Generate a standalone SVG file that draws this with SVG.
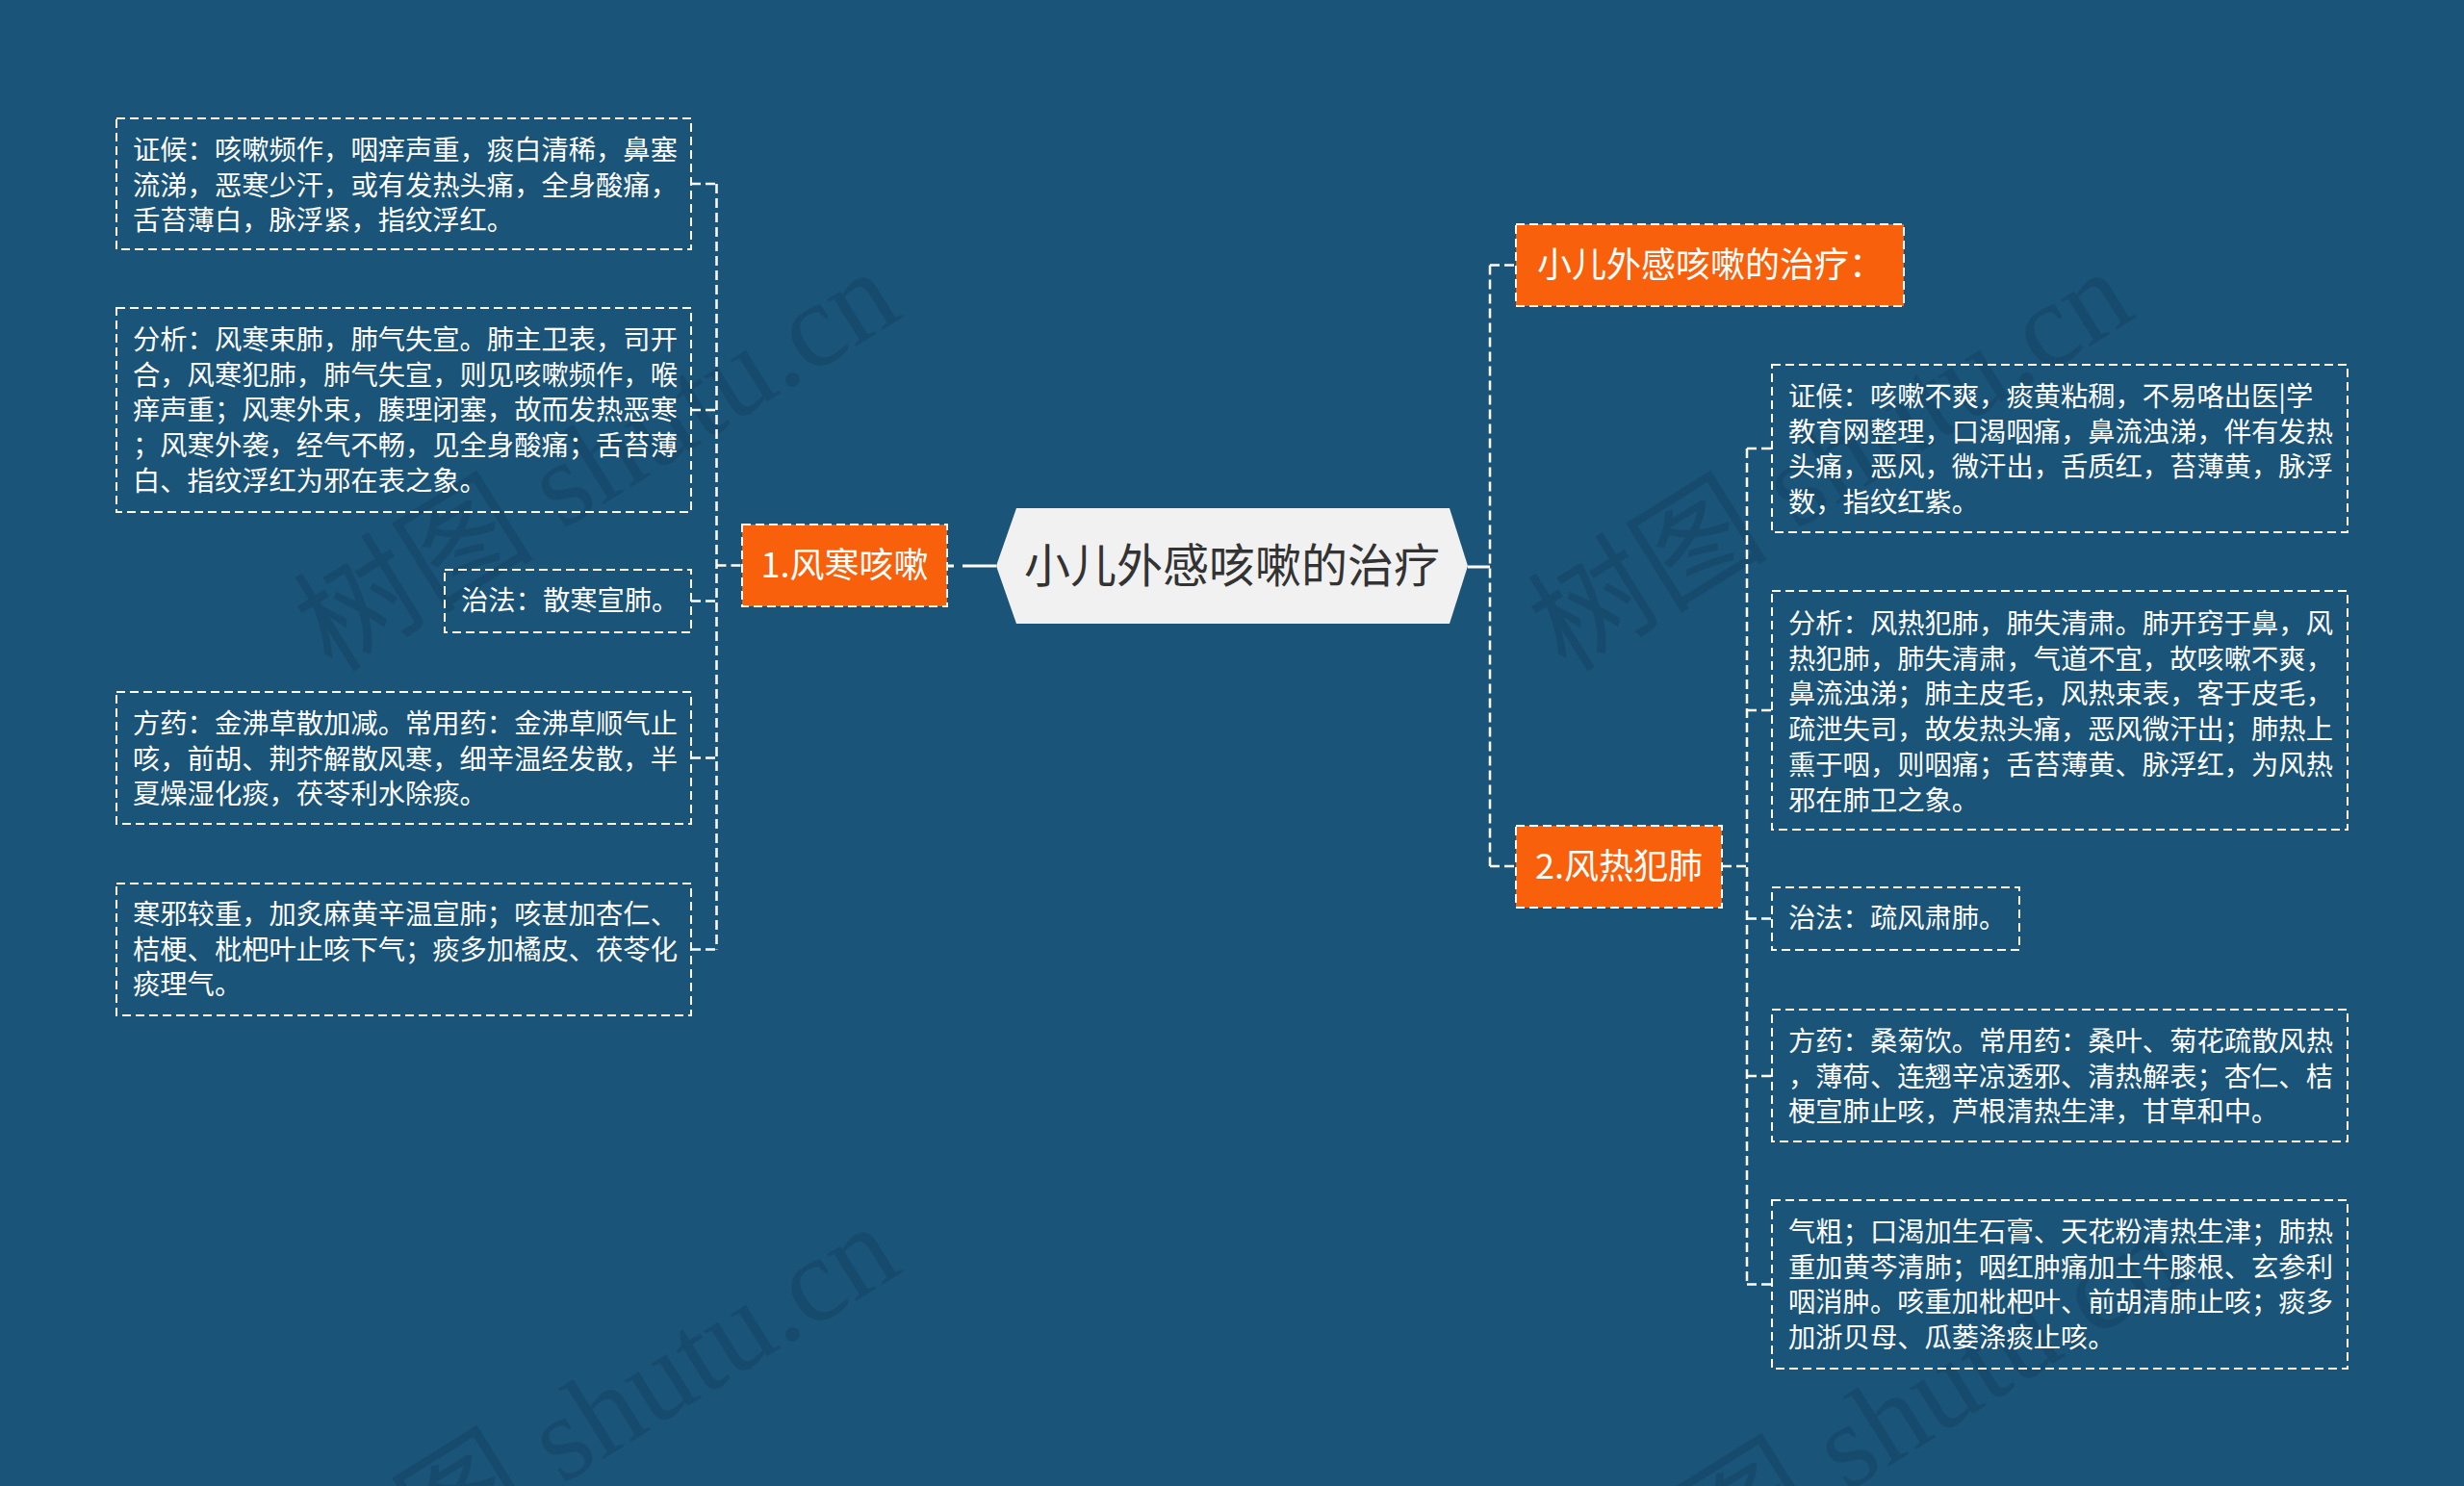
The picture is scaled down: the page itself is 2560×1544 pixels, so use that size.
<svg xmlns="http://www.w3.org/2000/svg" width="2560" height="1544" viewBox="0 0 2560 1544">
<style>
.bg{fill:#1b5479}
.wm{font-family:"Liberation Serif","Noto Sans CJK SC",serif;font-size:125px;fill:#174b6e}
.box{fill:none;stroke:#ffffff;stroke-width:2;stroke-dasharray:9 5}
.obox{fill:#f9600b;stroke:#ffffff;stroke-width:2;stroke-dasharray:9 5}
.t{font-family:"Noto Sans CJK SC","Noto Sans",sans-serif;font-size:28.3px;fill:#ffffff}
.ot{font-family:"Noto Sans CJK SC","Noto Sans",sans-serif;font-size:36px;fill:#ffffff}
.ct{font-family:"Noto Sans CJK SC","Noto Sans",sans-serif;font-size:48px;fill:#333333}
.conn{fill:none;stroke:#ffffff;stroke-width:2.5;stroke-dasharray:10 5}
.solid{fill:none;stroke:#ffffff;stroke-width:3}
</style>
<rect class="bg" x="0" y="0" width="2560" height="1544"/>
<g id="watermarks">
<text class="wm" transform="translate(345,700) rotate(-32)">树图 shutu.cn</text>
<text class="wm" transform="translate(1627,700) rotate(-32)">树图 shutu.cn</text>
<text class="wm" transform="translate(345,1692) rotate(-32)">树图 shutu.cn</text>
<text class="wm" transform="translate(1680,1700) rotate(-32)">树图 shutu.cn</text>
</g>
<g id="connectors">
<path class="conn" d="M744.5 191 V986.5"/>
<path class="conn" d="M718 191 H744.5 M718 426 H744.5 M718 624.5 H744.5 M718 787.5 H744.5 M718 986.5 H744.5 M744.5 587.5 H771"/>
<path class="solid" d="M1035 588 H984" style="stroke-dasharray:35 9"/>
<path class="solid" d="M1525 589 H1548"/>
<path class="conn" d="M1548 275.5 V900"/>
<path class="conn" d="M1548 275.5 H1575 M1548 900 H1575"/>
<path class="conn" d="M1789 900 H1815"/>
<path class="conn" d="M1815 466 V1334.5"/>
<path class="conn" d="M1815 466 H1841 M1815 738 H1841 M1815 954.5 H1841 M1815 1118 H1841 M1815 1334.5 H1841"/>
</g>
<g id="root">
<polygon points="1035,588 1056,528 1506,528 1525,588 1506,648 1056,648" fill="#f1f1f1"/>
<text class="ct" x="1280" y="605" text-anchor="middle">小儿外感咳嗽的治疗</text>
</g>
<g id="branch-1">
<rect class="obox" x="771" y="545" width="213" height="85"/>
<text class="ot" x="877.5" y="600" text-anchor="middle">1.风寒咳嗽</text>
</g>
<g id="left-1">
<rect class="box" x="121" y="123" width="597" height="136"/>
<text class="t"><tspan x="138" y="166">证候：咳嗽频作，咽痒声重，痰白清稀，鼻塞</tspan><tspan x="138" y="202.7">流涕，恶寒少汗，或有发热头痛，全身酸痛，</tspan><tspan x="138" y="239.4">舌苔薄白，脉浮紧，指纹浮红。</tspan></text>
</g>
<g id="left-2">
<rect class="box" x="121" y="320" width="597" height="212"/>
<text class="t"><tspan x="138" y="363">分析：风寒束肺，肺气失宣。肺主卫表，司开</tspan><tspan x="138" y="399.7">合，风寒犯肺，肺气失宣，则见咳嗽频作，喉</tspan><tspan x="138" y="436.4">痒声重；风寒外束，腠理闭塞，故而发热恶寒</tspan><tspan x="138" y="473.1">；风寒外袭，经气不畅，见全身酸痛；舌苔薄</tspan><tspan x="138" y="509.8">白、指纹浮红为邪在表之象。</tspan></text>
</g>
<g id="left-3">
<rect class="box" x="462" y="592" width="256" height="65"/>
<text class="t" x="479" y="634">治法：散寒宣肺。</text>
</g>
<g id="left-4">
<rect class="box" x="121" y="719" width="597" height="137"/>
<text class="t"><tspan x="138" y="762">方药：金沸草散加减。常用药：金沸草顺气止</tspan><tspan x="138" y="798.7">咳，前胡、荆芥解散风寒，细辛温经发散，半</tspan><tspan x="138" y="835.4">夏燥湿化痰，茯苓利水除痰。</tspan></text>
</g>
<g id="left-5">
<rect class="box" x="121" y="918" width="597" height="137"/>
<text class="t"><tspan x="138" y="960">寒邪较重，加炙麻黄辛温宣肺；咳甚加杏仁、</tspan><tspan x="138" y="996.7">桔梗、枇杷叶止咳下气；痰多加橘皮、茯苓化</tspan><tspan x="138" y="1033.4">痰理气。</tspan></text>
</g>
<g id="branch-0">
<rect class="obox" x="1575" y="233" width="403" height="85"/>
<text class="ot" x="1597" y="288">小儿外感咳嗽的治疗：</text>
</g>
<g id="branch-2">
<rect class="obox" x="1575" y="858" width="214" height="85"/>
<text class="ot" x="1682" y="913" text-anchor="middle">2.风热犯肺</text>
</g>
<g id="right-1">
<rect class="box" x="1841" y="379" width="598" height="174"/>
<text class="t"><tspan x="1858" y="422">证候：咳嗽不爽，痰黄粘稠，不易咯出医|学</tspan><tspan x="1858" y="458.7">教育网整理，口渴咽痛，鼻流浊涕，伴有发热</tspan><tspan x="1858" y="495.4">头痛，恶风，微汗出，舌质红，苔薄黄，脉浮</tspan><tspan x="1858" y="532.1">数，指纹红紫。</tspan></text>
</g>
<g id="right-2">
<rect class="box" x="1841" y="614" width="598" height="248"/>
<text class="t"><tspan x="1858" y="658">分析：风热犯肺，肺失清肃。肺开窍于鼻，风</tspan><tspan x="1858" y="694.7">热犯肺，肺失清肃，气道不宜，故咳嗽不爽，</tspan><tspan x="1858" y="731.4">鼻流浊涕；肺主皮毛，风热束表，客于皮毛，</tspan><tspan x="1858" y="768.1">疏泄失司，故发热头痛，恶风微汗出；肺热上</tspan><tspan x="1858" y="804.8">熏于咽，则咽痛；舌苔薄黄、脉浮红，为风热</tspan><tspan x="1858" y="841.5">邪在肺卫之象。</tspan></text>
</g>
<g id="right-3">
<rect class="box" x="1841" y="922" width="257" height="65"/>
<text class="t" x="1858" y="964">治法：疏风肃肺。</text>
</g>
<g id="right-4">
<rect class="box" x="1841" y="1049" width="598" height="137"/>
<text class="t"><tspan x="1858" y="1092">方药：桑菊饮。常用药：桑叶、菊花疏散风热</tspan><tspan x="1858" y="1128.7">，薄荷、连翘辛凉透邪、清热解表；杏仁、桔</tspan><tspan x="1858" y="1165.4">梗宣肺止咳，芦根清热生津，甘草和中。</tspan></text>
</g>
<g id="right-5">
<rect class="box" x="1841" y="1247" width="598" height="175"/>
<text class="t"><tspan x="1858" y="1290">气粗；口渴加生石膏、天花粉清热生津；肺热</tspan><tspan x="1858" y="1326.7">重加黄芩清肺；咽红肿痛加土牛膝根、玄参利</tspan><tspan x="1858" y="1363.4">咽消肿。咳重加枇杷叶、前胡清肺止咳；痰多</tspan><tspan x="1858" y="1400.1">加浙贝母、瓜蒌涤痰止咳。</tspan></text>
</g>
</svg>
